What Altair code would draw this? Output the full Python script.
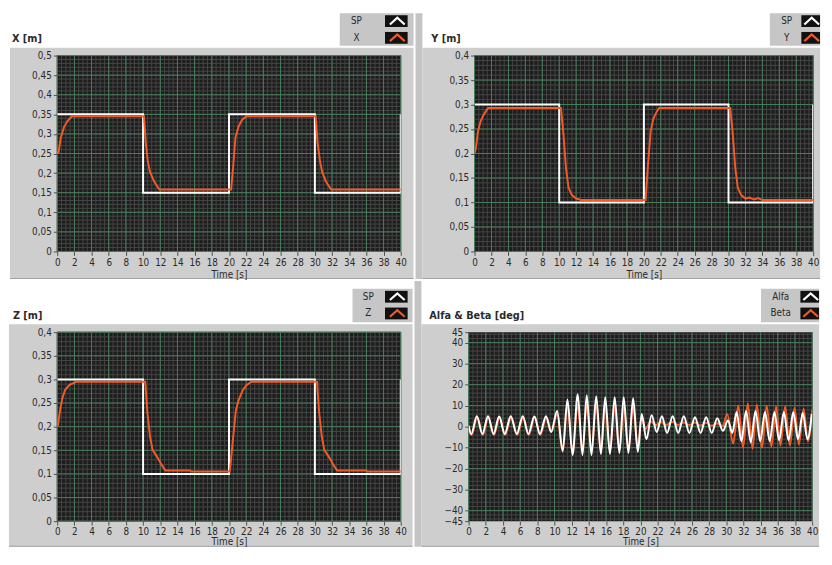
import altair as alt
import pandas as pd
import numpy as np

# ---------------- data ----------------
t_sp = [0, 10, 10, 20, 20, 30, 30, 40, 40]
sp_x = [0.35, 0.35, 0.15, 0.15, 0.35, 0.35, 0.15, 0.15, 0.35]
sp_yz = [0.3, 0.3, 0.1, 0.1, 0.3, 0.3, 0.1, 0.1, 0.3]

x_t = [0, 0.15, 0.4, 0.8, 1.2, 1.7, 10.1, 10.3, 10.55, 10.8, 11.3, 11.9,
       20.25, 20.5, 20.75, 21.1, 21.5, 22.0, 30.1, 30.3, 30.6, 30.85, 31.3, 31.9, 40]
x_v = [0.25, 0.252, 0.29, 0.318, 0.333, 0.345, 0.345, 0.28, 0.23, 0.203, 0.178, 0.158,
       0.158, 0.22, 0.29, 0.318, 0.335, 0.345, 0.345, 0.28, 0.23, 0.203, 0.178, 0.158, 0.158]

y_t = [0, 0.15, 0.4, 0.7, 1.1, 1.6, 10.2, 10.5, 10.8, 11.1, 11.5, 12.0, 12.6,
       20.2, 20.5, 20.8, 21.1, 21.5, 21.8, 30.2, 30.5, 30.8, 31.1, 31.5, 32.0,
       32.5, 33.0, 33.5, 34.0, 40]
y_v = [0.2, 0.21, 0.245, 0.265, 0.28, 0.293, 0.293, 0.24, 0.17, 0.13, 0.115, 0.108, 0.105,
       0.105, 0.18, 0.245, 0.27, 0.285, 0.293, 0.293, 0.24, 0.17, 0.13, 0.115, 0.108,
       0.11, 0.106, 0.109, 0.105, 0.105]

z_t = [0, 0.1, 0.35, 0.6, 0.9, 1.4, 2.2, 10.25, 10.5, 10.8, 11.1, 11.7, 12.2, 12.6,
       15.5, 15.6, 20.1, 20.5, 20.8, 21.1, 21.6, 22.0, 22.6, 30.25, 30.5, 30.8, 31.1,
       31.7, 32.2, 32.6, 36.0, 36.1, 40]
z_v = [0.2, 0.205, 0.237, 0.26, 0.277, 0.288, 0.295, 0.295, 0.23, 0.18, 0.151, 0.134,
       0.118, 0.107, 0.107, 0.105, 0.105, 0.18, 0.234, 0.255, 0.277, 0.287, 0.295, 0.295,
       0.23, 0.18, 0.151, 0.134, 0.118, 0.107, 0.107, 0.105, 0.105]

alfa_t = [0.0, 0.3, 0.95, 1.6, 2.25, 2.9, 3.55, 4.2, 4.9, 5.6, 6.3, 6.95, 7.65, 8.3, 9.0,
          9.6, 10.3, 10.95, 11.5, 12.1, 12.7, 13.25, 13.75, 14.3, 14.85, 15.4, 15.9,
          16.45, 17.0, 17.55, 18.05, 18.6, 19.15, 19.7, 20.15, 20.7, 21.3, 21.9, 22.5,
          23.1, 23.75, 24.4, 25.05, 25.7, 26.35, 27.0, 27.65, 28.3, 28.95, 29.6, 30.2,
          30.7, 31.2, 31.75, 32.3, 32.85, 33.4, 33.95, 34.5, 35.05, 35.6, 36.15, 36.7,
          37.25, 37.8, 38.35, 38.9, 39.45, 39.95]
alfa_v = [0.5, -3.5, 5.0, -3.5, 5.0, -3.5, 4.8, -3.5, 5.0, -3.5, 5.0, -3.5, 4.8, -3.5, 5.0,
          -2.5, 7.5, -11.5, 13.0, -13.5, 15.5, -13.5, 15.0, -13.5, 14.5, -13.0, 14.0,
          -13.0, 14.0, -12.5, 14.0, -12.5, 13.5, -12.0, 6.0, -6.0, 5.5, -2.5, 5.0,
          -3.0, 5.0, -3.0, 5.0, -3.0, 4.5, -3.0, 4.5, -3.0, 4.0, -2.0, 3.0,
          -3.0, 7.0, -7.0, 7.5, -7.5, 7.5, -7.0, 7.0, -7.0, 7.0, -6.5, 7.0,
          -6.5, 7.0, -6.0, 6.5, -6.0, 6.0]

beta_t = [0.0, 0.35, 1.0, 1.65, 2.3, 2.95, 3.6, 4.25, 4.95, 5.65, 6.35, 7.0, 7.7, 8.35,
          9.05, 9.65, 10.3, 10.95, 11.5, 12.1, 12.7, 13.25, 13.75, 14.3, 14.85, 15.4,
          15.9, 16.45, 17.0, 17.55, 18.05, 18.6, 19.15, 19.7, 20.1, 20.6, 21.2, 21.8,
          22.4, 23.0, 23.7, 24.4, 25.0, 25.7, 26.3, 27.0, 27.6, 28.3, 28.9, 29.6, 30.1,
          30.8, 31.4, 31.95, 32.5, 33.05, 33.55, 34.15, 34.7, 35.25, 35.8, 36.3, 36.85,
          37.4, 37.95, 38.45, 39.0, 39.5, 40.0]
beta_v = [-1.0, -4.0, 4.5, -4.0, 4.5, -4.0, 4.5, -4.0, 4.5, -4.0, 4.5, -4.0, 4.5, -4.0,
          4.5, -2.5, 6.0, -12.0, 10.0, -12.0, 10.5, -12.0, 10.5, -12.0, 10.0, -12.0,
          10.0, -11.5, 10.0, -11.5, 10.0, -11.0, 9.5, -11.0, 4.5, -1.0, 2.5, 0.8,
          2.2, 0.8, 2.2, 0.8, 2.0, 0.8, 2.0, 0.5, 1.8, 0.5, 1.5, 0.3, 6.0,
          -8.0, 10.0, -10.0, 11.0, -10.5, 10.5, -10.0, 10.0, -9.5, 9.5, -9.0, 9.5,
          -9.0, 9.0, -8.5, 8.5, -7.0, 8.0]

# ---------------- styling ----------------
FONT = "Tahoma, 'DejaVu Sans Condensed', 'DejaVu Sans', sans-serif"
GRAY = '#cecece'
STRIP = '#c4c4c4'
LEG = '#c6c6c6'
EDGE = '#a2a2a2'
PLOT_BG = '#1d1d1d'
MAJOR = '#45805c'
MINOR = '#454545'
ORANGE = '#f25a28'
WHITE = '#ffffff'
TXT = '#2a2a2a'
CHEV = "M-1,0.45L0,-0.45L1,0.45"

ONE = pd.DataFrame({'k': [0]})


def rect(x1, x2, y1, y2, fill):
    return alt.Chart(ONE).mark_rect(fill=fill, clip=False).encode(
        x=alt.value(x1), x2=alt.value(x2), y=alt.value(y1), y2=alt.value(y2))


def text(txt, x, y, size=10, weight='normal', align='left'):
    return alt.Chart(ONE).mark_text(text=txt, align=align, baseline='middle', font=FONT,
                                    fontSize=size, fontWeight=weight, color=TXT,
                                    clip=False).encode(x=alt.value(x), y=alt.value(y))


def chevron(cx, cy, color):
    return alt.Chart(ONE).mark_point(shape=CHEV, filled=False, size=225, strokeWidth=2.2,
                                     color=color, opacity=1, clip=False).encode(
        x=alt.value(cx), y=alt.value(cy))


def series_df(t, v):
    return pd.DataFrame({'t': t, 'v': v, 'i': list(range(len(t)))})


def panel(W, H, title, names, data, ydom, yvals, ymajor, yminor, yfmt, geo, interp='linear'):
    xs = alt.Scale(domain=[0, 40], nice=False, zero=False)
    ys = alt.Scale(domain=ydom, nice=False, zero=False)
    xmajor = list(range(0, 41, 2))
    xminor = [float(v) for v in np.arange(0, 40.0001, 0.5)]
    xaxis = alt.Axis(values=xmajor, title='Time [s]', grid=False, domain=False, tickSize=4,
                     tickColor='#505050', labelColor=TXT, labelFont=FONT, labelFontSize=10,
                     titleFont=FONT, titleFontSize=10, titleFontWeight='normal', titleColor=TXT,
                     titlePadding=geo['tp'], labelPadding=2, format='d', labelOverlap=False,
                     labelFlush=False, zindex=1)
    yaxis = alt.Axis(values=yvals, title=None, grid=False, domain=False, tickSize=4,
                     tickColor='#505050', labelColor=TXT, labelFont=FONT, labelFontSize=10,
                     labelPadding=2, format=yfmt, labelOverlap=False, labelFlush=False,
                     labelExpr="replace(datum.label, '.', ',')", zindex=1)
    X = lambda f: alt.X(f, scale=xs, axis=xaxis)
    Y = lambda f: alt.Y(f, scale=ys, axis=yaxis)

    layers = []
    # grey strip between the two columns
    if geo['left'] < geo['gl']:
        layers.append(rect(geo['left'], geo['gl'], geo['top'], H + geo['gb'], STRIP))
    # grey panel
    layers.append(rect(geo['gl'], W + geo['gr'], geo['gt'], H + geo['gb'], GRAY))
    # darker bottom edge of the grey panel
    layers.append(rect(geo['gl'], W + geo['gr'], H + geo['gb'] - 1, H + geo['gb'], EDGE))
    # top reach of the panel cell (white)
    layers.append(rect(geo['gl'], geo['gl'] + 1, geo['top'], geo['top'] + 1, WHITE))
    # plot area
    layers.append(rect(0, W, 0, H, PLOT_BG))
    # grid
    layers.append(alt.Chart(pd.DataFrame({'g': xminor})).mark_rule(color=MINOR, strokeWidth=1)
                  .encode(x=X('g:Q')))
    layers.append(alt.Chart(pd.DataFrame({'g': yminor})).mark_rule(color=MINOR, strokeWidth=1)
                  .encode(y=Y('g:Q')))
    layers.append(alt.Chart(pd.DataFrame({'g': xmajor})).mark_rule(color=MAJOR, strokeWidth=1)
                  .encode(x=X('g:Q')))
    layers.append(alt.Chart(pd.DataFrame({'g': ymajor})).mark_rule(color=MAJOR, strokeWidth=1)
                  .encode(y=Y('g:Q')))
    # data lines
    for t, v, c in data:
        layers.append(alt.Chart(series_df(t, v)).mark_line(color=c, strokeWidth=2, clip=True,
                                                            interpolate=interp)
                      .encode(x=X('t:Q'), y=Y('v:Q'), order=alt.Order('i:Q')))
    # title
    layers.append(text(title, geo['tx'], geo['ty'], size=11, weight='bold'))
    # legend
    layers.append(rect(W + geo['lb'], W + geo['gr'], geo['ltop'], geo['gt'] - 2, LEG))
    icol = {names[0]: WHITE, names[1]: ORANGE}
    for nm, cy in zip(names, [geo['r1'], geo['r2']]):
        layers.append(rect(W + geo['il'], W + geo['ir'], cy - 6, cy + 6, '#111111'))
        layers.append(chevron(W + (geo['il'] + geo['ir']) / 2 + 1, cy, icol[nm]))
        layers.append(text(nm, W + geo['lt'], cy, size=10, align='center'))
    return alt.layer(*layers).properties(width=W, height=H)


geo1 = dict(left=-48, gl=-48, gr=13, top=-43, gt=-8, gb=28, tx=-46, ty=-17, ltop=-43, lb=-62,
            il=-16, ir=7, r1=-35, r2=-18, lt=-45, tp=2)
geo2 = dict(left=-60, gl=-53, gr=7, top=-43, gt=-8, gb=28, tx=-44, ty=-17, ltop=-43, lb=-44,
            il=-12, ir=7, r1=-35, r2=-18, lt=-27, tp=2)
geo3 = dict(left=-49, gl=-49, gr=12, top=-52, gt=-8, gb=26, tx=-45, ty=-16, ltop=-44, lb=-49,
            il=-16, ir=7, r1=-36, r2=-19, lt=-33, tp=0)
geo4 = dict(left=-55, gl=-48, gr=7, top=-52, gt=-8, gb=26, tx=-40, ty=-16, ltop=-44, lb=-52,
            il=-12, ir=7, r1=-36, r2=-19, lt=-32, tp=0)

y05 = [round(float(v), 2) for v in np.arange(0, 0.5001, 0.05)]
y04 = [round(float(v), 2) for v in np.arange(0, 0.4001, 0.05)]
m05 = [round(float(v), 3) for v in np.arange(0, 0.5001, 0.01)]
m04 = [round(float(v), 3) for v in np.arange(0, 0.4001, 0.01)]

p1 = panel(349, 199, 'X [m]', ['SP', 'X'],
           [(t_sp, sp_x, WHITE), (x_t, x_v, ORANGE)],
           [0, 0.5], y05, y05, m05, '.2~f', geo1)
p2 = panel(344, 199, 'Y [m]', ['SP', 'Y'],
           [(t_sp, sp_yz, WHITE), (y_t, y_v, ORANGE)],
           [0, 0.4], y04, y04, m04, '.2~f', geo2)
p3 = panel(349, 192, 'Z [m]', ['SP', 'Z'],
           [(t_sp, sp_yz, WHITE), (z_t, z_v, ORANGE)],
           [0, 0.4], y04, y04, m04, '.2~f', geo3)
ab_vals = [-45, -40, -30, -20, -10, 0, 10, 20, 30, 40, 45]
p4 = panel(349, 192, 'Alfa & Beta [deg]', ['Alfa', 'Beta'],
           [(beta_t, beta_v, ORANGE), (alfa_t, alfa_v, WHITE)],
           [-45, 45], ab_vals, list(range(-40, 41, 10)), list(range(-44, 45, 2)), 'd', geo4,
           interp='monotone')

chart = alt.vconcat(
    alt.hconcat(p1, p2, spacing=0),
    alt.hconcat(p3, p4, spacing=0),
    spacing=0,
).properties(
    padding={"left": 0, "top": 0, "right": 0, "bottom": 0},
    background=WHITE,
    autosize=alt.AutoSizeParams(type='pad'),
).configure_view(stroke='transparent')

chart.save("out.html", embed_options={"renderer": "svg", "actions": False})
